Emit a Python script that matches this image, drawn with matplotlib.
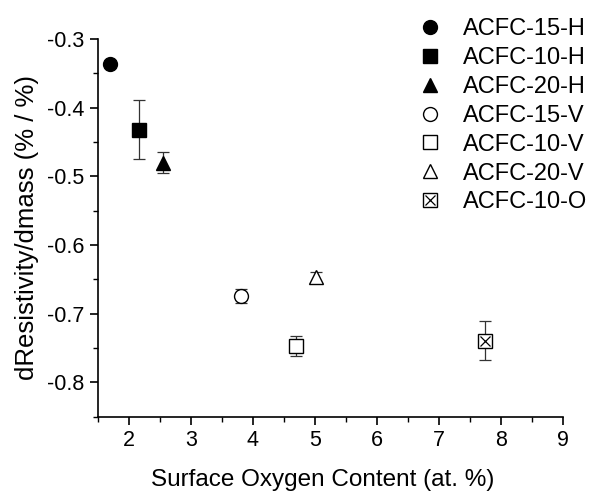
import matplotlib
matplotlib.use('Agg')
import matplotlib.pyplot as plt
from matplotlib.ticker import MultipleLocator

plt.rcParams['font.family'] = ['Liberation Sans', 'DejaVu Sans']

# dados
amostras = ['ACFC-15-H', 'ACFC-10-H', 'ACFC-20-H', 'ACFC-15-V', 'ACFC-10-V', 'ACFC-20-V', 'ACFC-10-O']
oxigenio = [1.70, 2.16, 2.55, 3.81, 4.69, 5.01, 7.74]
d_resist = [-0.337, -0.432, -0.480, -0.674, -0.747, -0.647, -0.739]
erro = [0.0, 0.043, 0.015, 0.010, 0.015, 0.008, 0.029]
marcadores = ['o', 's', '^', 'o', 's', '^', 's']
cheio = [True, True, True, False, False, False, False]

fig, ax = plt.subplots(figsize=(5.9, 4.91), dpi=100)
fig.subplots_adjust(left=0.166, right=0.954, top=0.921, bottom=0.151)

handles = []
for i in range(len(amostras)):
    fc = 'black' if cheio[i] else 'white'
    ms = 10
    if erro[i] > 0:
        ax.errorbar(oxigenio[i], d_resist[i], yerr=erro[i], fmt='none',
                    ecolor='#333333', elinewidth=0.9, capsize=4, capthick=0.9, zorder=2)
    h, = ax.plot(oxigenio[i], d_resist[i], marker=marcadores[i], ms=ms,
                 mfc=fc, mec='black', mew=1.0, linestyle='none', zorder=3)
    if amostras[i] == 'ACFC-10-O':
        hx, = ax.plot(oxigenio[i], d_resist[i], marker='x', ms=7.5, mec='black',
                      mew=0.9, linestyle='none', zorder=4)
        h = (h, hx)
    handles.append(h)

ax.legend(handles, amostras, loc='upper right', bbox_to_anchor=(1.073, 1.079),
          frameon=False, fontsize=17, handletextpad=0.9, labelspacing=0.29,
          handlelength=1.0, borderaxespad=0)

ax.set_xlim(1.5, 9)
ax.set_ylim(-0.85, -0.3)
ax.xaxis.set_major_locator(MultipleLocator(1))
ax.xaxis.set_minor_locator(MultipleLocator(0.5))
ax.yaxis.set_major_locator(MultipleLocator(0.1))
ax.yaxis.set_minor_locator(MultipleLocator(0.05))
ax.set_yticks([-0.3, -0.4, -0.5, -0.6, -0.7, -0.8])
ax.set_yticklabels(['-0.3', '-0.4', '-0.5', '-0.6', '-0.7', '-0.8'])
ax.set_xticks([2, 3, 4, 5, 6, 7, 8, 9])

for s in ['top', 'right']:
    ax.spines[s].set_visible(False)
for s in ['left', 'bottom']:
    ax.spines[s].set_linewidth(1.2)

ax.tick_params(which='major', direction='out', length=6, width=1.2, labelsize=15.5)
ax.tick_params(which='minor', direction='out', length=3.5, width=1.0)

ax.set_xlabel('Surface Oxygen Content (at. %)', fontsize=17.5)
ax.xaxis.set_label_coords(0.483, -0.138)
ax.set_ylabel('dResistivity/dmass (% / %)', fontsize=18.5, labelpad=6)

fig.savefig('out.png', dpi=100)
